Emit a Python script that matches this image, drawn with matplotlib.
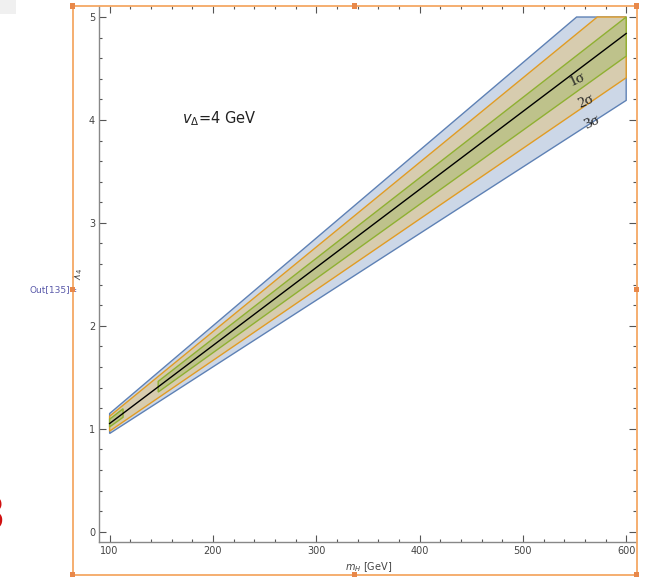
import numpy as np
import matplotlib
matplotlib.use("Agg")
import matplotlib.pyplot as plt
from matplotlib.patches import Rectangle
from matplotlib.ticker import MultipleLocator

# ---- data ----
center_m = [100, 600]
center = [1.051, 4.84]

s3_up_m = [100, 552, 600]
s3_up = [1.148, 5.0, 5.0]
s3_lo_m = [100, 600]
s3_lo = [0.954, 4.19]

s2_up_m = [100, 572, 600]
s2_up = [1.122, 5.0, 5.0]
s2_lo_m = [100, 600]
s2_lo = [0.977, 4.41]

s1_up_m = [100, 600]
s1_up = [1.093, 5.0]
s1_lo_m = [100, 600]
s1_lo = [1.018, 4.62]

# mass ranges where the 1-sigma region is drawn
s1_segments = [(100, 113), (147, 600)]

band_labels = ["1σ", "2σ", "3σ"]
label_pos_m = [553, 561, 567]
label_pos_y = [4.39, 4.18, 3.98]

xticks = [100, 200, 300, 400, 500, 600]
yticks = [0, 1, 2, 3, 4, 5]

# ---- figure ----
W, H = 649, 577
fig = plt.figure(figsize=(W / 100, H / 100), dpi=100)

def fx(px):
    return px / W

def fy(py):
    return 1 - py / H

ax_l, ax_r, ax_t, ax_b = 99.3, 636.0, 6.0, 542.3
ax = fig.add_axes([fx(ax_l), fy(ax_b), (ax_r - ax_l) / W, (ax_b - ax_t) / H])

blue_e, orange_e, green_e = "#5E81B5", "#E19C24", "#8FB032"
blue_f, tan_f, green_f = "#CCD7E7", "#D7CCAF", "#BEC28B"


def band(up_m, up, lo_m, lo, fc, ec, z):
    xs = list(up_m) + list(lo_m)[::-1]
    ys = list(up) + list(lo)[::-1]
    ax.fill(xs, ys, facecolor=fc, edgecolor=ec, linewidth=1.0, zorder=z,
            joinstyle="miter")


band(s3_up_m, s3_up, s3_lo_m, s3_lo, blue_f, blue_e, 2)
band(s2_up_m, s2_up, s2_lo_m, s2_lo, tan_f, orange_e, 3)
for a, b in s1_segments:
    inner_up_m = [m for m in s1_up_m if a < m < b]
    inner_lo_m = [m for m in s1_lo_m if a < m < b]
    um = [a] + inner_up_m + [b]
    lm = [a] + inner_lo_m + [b]
    uy = list(np.interp(um, s1_up_m, s1_up))
    ly = list(np.interp(lm, s1_lo_m, s1_lo))
    band(um, uy, lm, ly, green_f, green_e, 4)

ax.plot(center_m, center, color="black", linewidth=1.0, zorder=5)

for t, xm, ym in zip(band_labels, label_pos_m, label_pos_y):
    ax.text(xm, ym, t, rotation=25, ha="center", va="center",
            fontsize=11, family="Liberation Serif", color="#222222", zorder=6)

ax.text(170, 4.01, r"$v_{\Delta}$=4 GeV", fontsize=10.5, ha="left", va="center",
        color="#222222")

ax.set_xlim(90, 609.5)
ax.set_ylim(-0.103, 5.107)
ax.set_xticks(xticks)
ax.set_yticks(yticks)
ax.xaxis.set_minor_locator(MultipleLocator(20))
ax.yaxis.set_minor_locator(MultipleLocator(0.2))
ax.tick_params(which="both", direction="in", top=True, right=True,
               color="#555555", labelsize=7, labelcolor="#444444", width=0.8)
ax.tick_params(which="major", length=5, pad=3)
ax.tick_params(which="minor", length=2.5)
for s in ax.spines.values():
    s.set_color("#888888")
    s.set_linewidth(1.0)
ax.spines["top"].set_visible(False)
ax.spines["right"].set_visible(False)

fig.text(fx(369), fy(567), r"$m_H$ [GeV]", fontsize=7, ha="center", va="center",
         color="#444444")
fig.text(fx(78), fy(274), r"$\lambda_4$", fontsize=7, rotation=90, ha="center",
         va="center", color="#444444")

# notebook frame decorations
fr_col = "#F5A865"
fig.patches.append(Rectangle((fx(72.7), fy(574.7)), (636.5 - 72.7) / W,
                             (574.7 - 6.0) / H, transform=fig.transFigure,
                             fill=False, edgecolor=fr_col, linewidth=1.3,
                             zorder=10))
hs = 5
for (px, py) in [(72.7, 6), (636.5, 6), (72.7, 574.7), (636.5, 574.7),
                 (354.6, 6), (354.6, 574.7), (72.7, 289), (636.5, 289)]:
    fig.patches.append(Rectangle((fx(px - hs / 2), fy(py + hs / 2)), hs / W, hs / H,
                                 transform=fig.transFigure, facecolor="#E8884A",
                                 edgecolor="none", zorder=11))

fig.text(fx(30), fy(290), "Out[135]=", fontsize=6.5, ha="left", va="center",
         color="#5A5AAA")
fig.text(fx(5), fy(517), "8", fontsize=32, ha="right", va="center",
         color="#D01010")
fig.patches.append(Rectangle((0, fy(14)), 16 / W, 14 / H, transform=fig.transFigure,
                             facecolor="#F0F0F0", edgecolor="none"))

fig.savefig("out.png", dpi=100)
